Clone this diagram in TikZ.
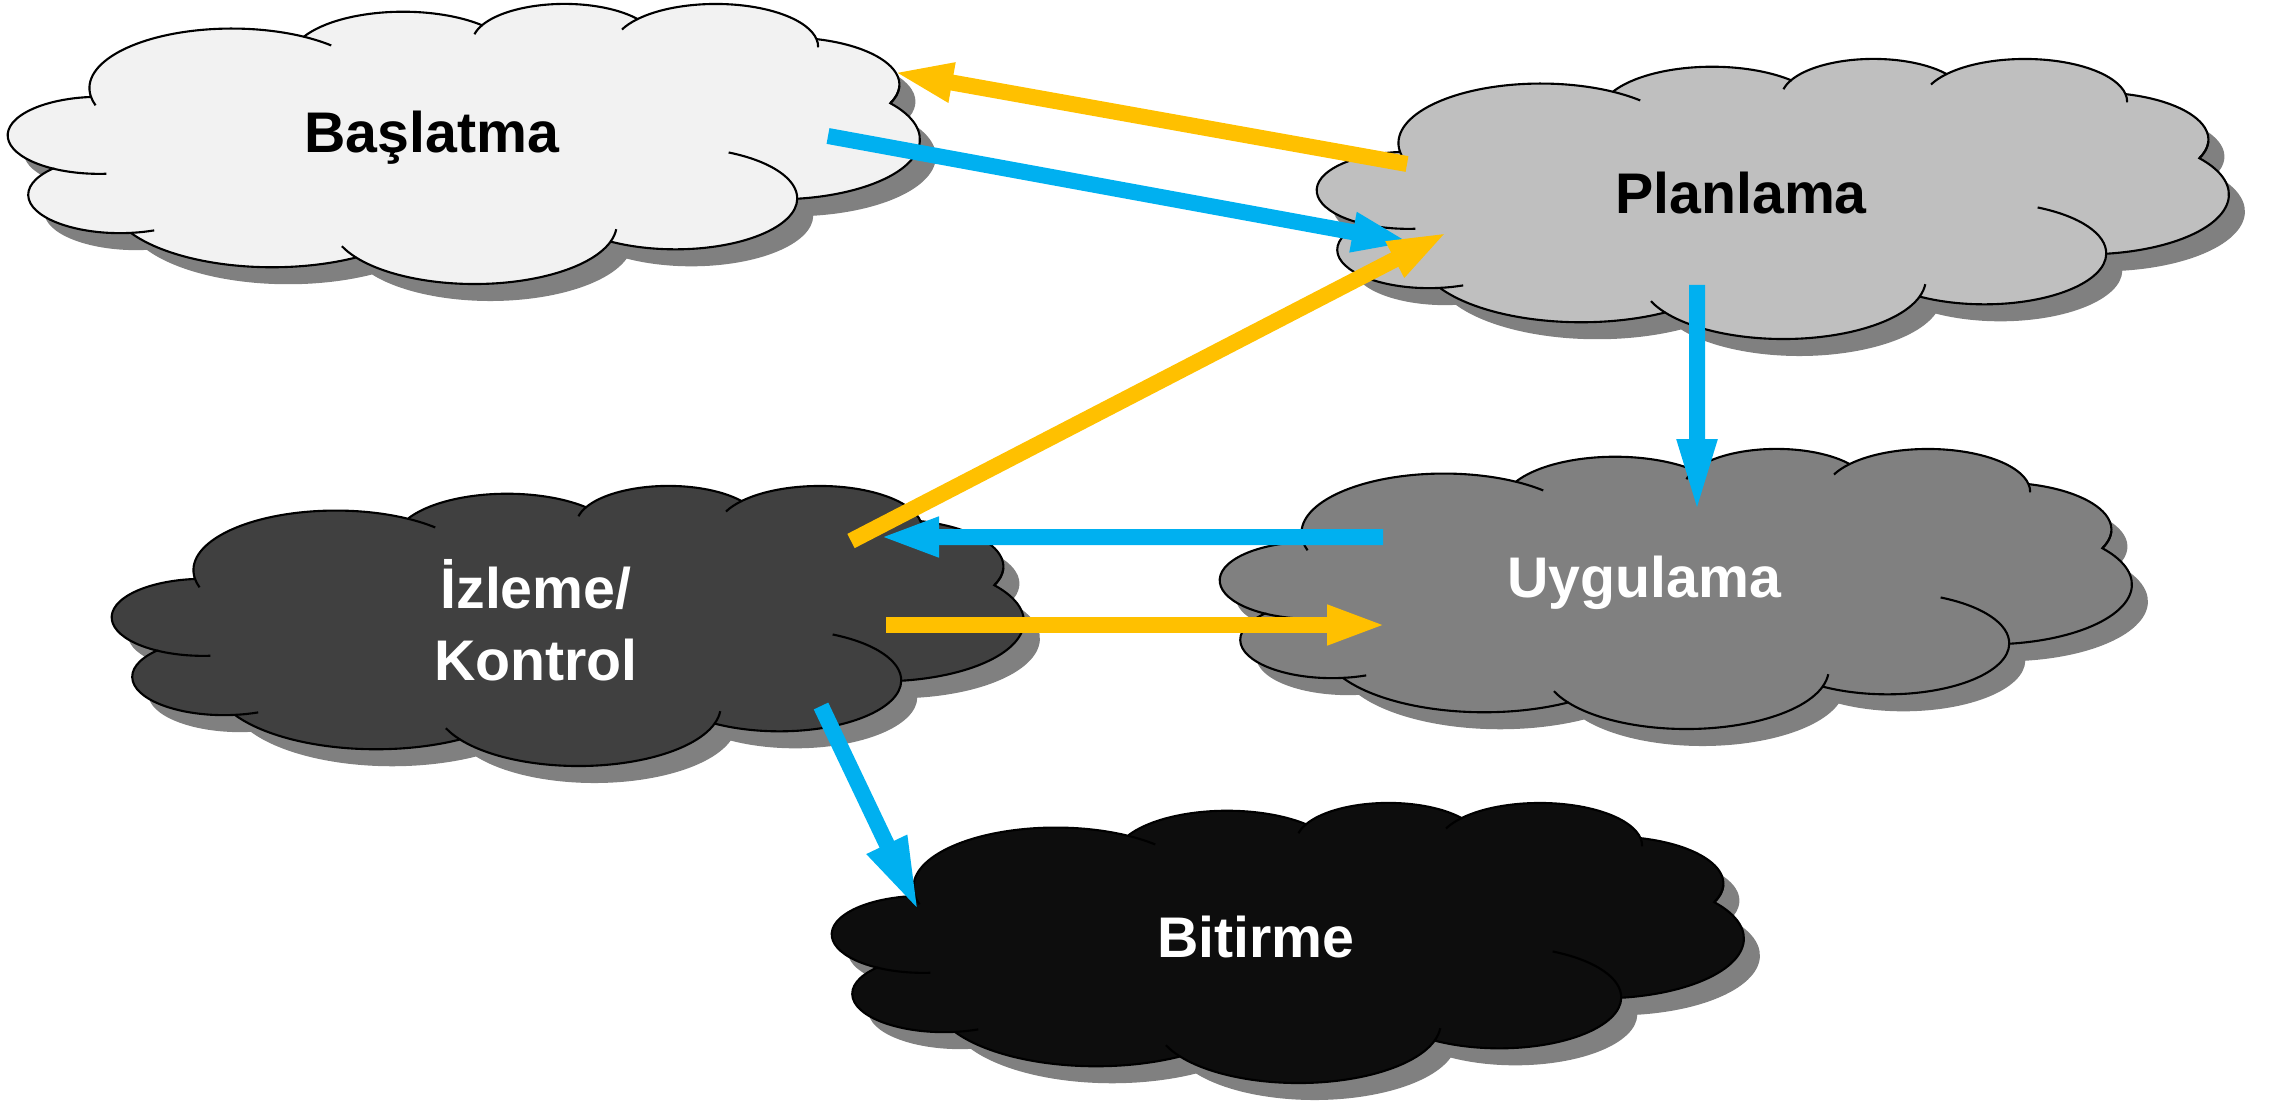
\documentclass[tikz,border=0pt]{standalone}
\usepackage{fontspec}
\setmainfont{Liberation Sans}
\usetikzlibrary{arrows.meta}

\definecolor{renkBasla}{HTML}{F2F2F2}
\definecolor{renkPlan}{HTML}{BFBFBF}
\definecolor{renkUygu}{HTML}{808080}
\definecolor{renkIzle}{HTML}{404040}
\definecolor{renkBitir}{HTML}{0D0D0D}
\definecolor{golge}{HTML}{808080}
\definecolor{mavi}{HTML}{00B0F0}
\definecolor{sari}{HTML}{FFC000}

% Bulut dis cizgisi (birim kare, merkez 0,0)
\newcommand{\bulutyol}{(-0.40972, 0.16736)
	arc[start angle=-172.25, end angle=-300.37, x radius=0.15632, y radius=0.21273]
	arc[start angle=152.02, end angle=45.46, x radius=0.12345, y radius=0.16822]
	arc[start angle=153.50, end angle=37.35, x radius=0.10104, y radius=0.13762]
	arc[start angle=139.71, end angle=10.21, x radius=0.11243, y radius=0.15266]
	arc[start angle=74.77, end angle=-23.21, x radius=0.12345, y radius=0.16836]
	arc[start angle=37.52, end angle=-81.86, x radius=0.15683, y radius=0.21343]
	arc[start angle=-0.46, end angle=-121.98, x radius=0.13391, y radius=0.18211]
	arc[start angle=-16.84, end angle=-146.22, x radius=0.15630, y radius=0.21331]
	arc[start angle=-58.98, end angle=-150.21, x radius=0.17870, y radius=0.24405]
	arc[start angle=-83.31, end angle=-223.09, x radius=0.10093, y radius=0.13699]
	arc[start angle=-120.36, end angle=-264.11, x radius=0.10058, y radius=0.13762]
	-- cycle}

% Bulut ic yaylari
\newcommand{\bulutic}{
	(-0.40036, 0.02739) ++(-85.55:0.10058 and 0.13762) arc[start angle=-85.55, end angle=-120.36, x radius=0.10058, y radius=0.13762]
	(-0.37748, -0.18489) ++(-68.24:0.10093 and 0.13699) arc[start angle=-68.24, end angle=-83.31, x radius=0.10093, y radius=0.13699]
	(0.01136, -0.29023) ++(-146.22:0.15630 and 0.21331) arc[start angle=-146.22, end angle=-158.47, x radius=0.15630, y radius=0.21331]
	(0.01136, -0.29023) ++(-4.74:0.15630 and 0.21331) arc[start angle=-4.74, end angle=-16.84, x radius=0.15630, y radius=0.21331]
	(0.23188, -0.19756) ++(64.03:0.13391 and 0.18211) arc[start angle=64.03, end angle=-0.46, x radius=0.13391, y radius=0.18211]
	(0.35452, 0.20857) ++(-23.21:0.12345 and 0.16836) arc[start angle=-23.21, end angle=-1.88, x radius=0.12345, y radius=0.16836]
	(0.27630, 0.34395) ++(10.21:0.11243 and 0.15266) arc[start angle=10.21, end angle=-0.82, x radius=0.11243, y radius=0.15266]
	(0.27630, 0.34395) ++(156.29:0.11243 and 0.15266) arc[start angle=156.29, end angle=139.71, x radius=0.11243, y radius=0.15266]
	(0.11022, 0.35915) ++(167.73:0.10104 and 0.13762) arc[start angle=167.73, end angle=153.50, x radius=0.10104, y radius=0.13762]
	(-0.25483, 0.19603) ++(59.63:0.15632 and 0.21273) arc[start angle=59.63, end angle=45.74, x radius=0.15632, y radius=0.21273]
	(-0.25483, 0.19603) ++(-163.19:0.15632 and 0.21273) arc[start angle=-163.19, end angle=-172.25, x radius=0.15632, y radius=0.21273]}

\begin{document}
\begin{tikzpicture}[line width=0.6pt,
	yazi/.style={font=\fontsize{16.3}{20.5}\selectfont\bfseries, align=center},
	bulut/.pic={
		\begin{scope}[xscale=9.11, yscale=2.8]
			\fill[golge, shift={(0.0176, -0.0607)}] \bulutyol;
			\path[pic actions, draw=black] \bulutyol;
			\draw \bulutic;
		\end{scope}
		\coordinate (-o) at (0, 0);
		\node[yazi] (-yazi) at (-0.32, 0.05) {#1};
	},
	mavioku/.style={draw=mavi, line width=0.16cm, -{Triangle[length=0.6cm, width=0.36cm]}},
	sarioku/.style={draw=sari, line width=0.16cm, -{Triangle[length=0.6cm, width=0.36cm]}}]
	\useasboundingbox (0, 0) rectangle (22.7, 11.02);
	
	% Bulutlar
	\pic[fill=renkBasla, text=black] (basla) at (4.64, 9.59) {bulut=Başlatma};
	\pic[fill=renkPlan, text=black] (plan) at (17.73, 9.04) {bulut=Planlama};
	\pic[fill=renkIzle, text=white] (izle) at (5.68, 4.77) {bulut={İzleme/\\Kontrol}};
	\pic[fill=renkUygu, text=white] (uygu) at (16.76, 5.14) {bulut=Uygulama};
	\pic[fill=renkBitir, text=white] (bitir) at (12.88, 1.60) {bulut=Bitirme};
	
	% Oklar
	\draw[sarioku] ([shift={(-3.66, 0.34)}]plan-o) -- ([shift={(4.29, 0.71)}]basla-o);
	\draw[mavioku] ([shift={(3.64, 0.07)}]basla-o) -- ([shift={(-3.61, -0.45)}]plan-o);
	\draw[sarioku] ([shift={(2.83, 0.84)}]izle-o) -- ([shift={(-3.25, -0.34)}]plan-o);
	\draw[mavioku, -{Triangle[length=0.75cm, width=0.36cm]}] ([shift={(-0.76, -0.87)}]plan-o) -- ([shift={(0.21, 0.74)}]uygu-o);
	\draw[mavioku] ([shift={(-2.93, 0.51)}]uygu-o) -- ([shift={(3.11, 0.88)}]izle-o);
	\draw[sarioku] ([shift={(3.18, 0)}]izle-o) -- ([shift={(-2.89, -0.37)}]uygu-o);
	\draw[mavioku, -{Triangle[length=0.75cm, width=0.4cm]}] ([shift={(2.53, -0.81)}]izle-o) -- ([shift={(-3.69, 0.30)}]bitir-o);
\end{tikzpicture}
\end{document}
